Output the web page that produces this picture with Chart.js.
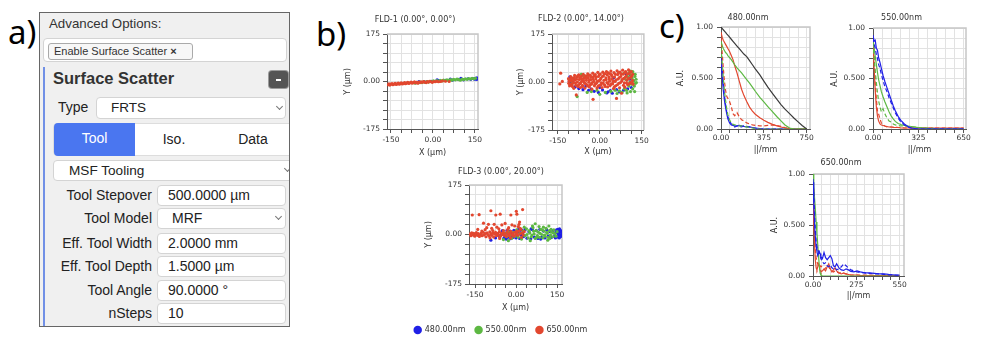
<!DOCTYPE html>
<html>
<head>
<meta charset="utf-8">
<title>Surface scatter</title>
<script src="https://cdn.jsdelivr.net/npm/chart.js@4.4.1/dist/chart.umd.min.js"></script>
<style>
  body { margin: 0; width: 983px; height: 346px; position: relative; overflow: hidden; background: #fff; font-family: "Liberation Sans", Arial, sans-serif; color: #222; }
  .lbl { position: absolute; font-family: "Noto Sans", sans-serif; font-size: 33px; line-height: 33px; color: #000; }
  #panel { position: absolute; left: 39px; top: 12px; width: 249px; height: 313px; border: 1px solid #666; background: #f0f0f0; overflow: hidden; }
  #panel div { position: absolute; box-sizing: border-box; white-space: nowrap; }
  #panel .box { background: #fff; border: 1px solid #d4d4d4; border-radius: 4px; height: 21px; font-size: 14px; line-height: 19px; }
  #panel .chev { width: 5px; height: 5px; top: 5px; border-right: 1px solid #777; border-bottom: 1px solid #777; transform: rotate(45deg); }
  #panel .rl { left: 0; width: 112px; text-align: right; font-size: 14px; line-height: 16px; }
  #panel .rv { left: 117px; width: 129px; padding-left: 10px; }
  canvas { position: absolute; }
</style>
</head>
<body>

<div class="lbl" style="left:8px;top:15px">a)</div>
<div class="lbl" style="left:316px;top:17px">b)</div>
<div class="lbl" style="left:659px;top:9px">c)</div>

<div id="panel">
  <div style="left:9px;top:3px;font-size:13.3px;line-height:16px;color:#333">Advanced Options:</div>
  <div class="box" style="left:3px;top:25px;width:244px;height:24px"></div>
  <div style="left:8px;top:30px;width:145px;height:17px;background:#f7f7f7;border:1px solid #aaa;border-radius:3px;font-size:11px;line-height:15px;padding-left:5px;color:#333">Enable Surface Scatter <b>&#215;</b></div>
  <div style="left:3px;top:54px;width:2px;height:260px;background:#7190e6"></div>
  <div style="left:13px;top:55px;font-size:16.5px;line-height:20px;font-weight:bold;color:#333">Surface Scatter</div>
  <div style="left:229px;top:58px;width:19px;height:17px;background:#545454;border-radius:3px;box-shadow:0 0 0 1px #9a9a9a">
    <div style="left:7px;top:8px;width:5px;height:1.5px;background:#fff"></div>
  </div>
  <div style="left:18px;top:86px;font-size:14px;line-height:16px">Type</div>
  <div class="box" style="left:56px;top:84px;width:190px;height:22px;padding-left:14px;font-size:13.5px;line-height:20px">FRTS<div class="chev" style="left:180px;top:6px"></div></div>
  <div style="left:13px;top:110px;width:245px;height:33px;background:#fff;border:1px solid #ddd;border-radius:4px;font-size:14px;line-height:31px;text-align:center">
    <div style="left:0;top:-1px;width:81px;height:33px;background:#4a76f0;color:#fff;border-radius:4px 0 0 4px">Tool</div>
    <div style="left:81px;top:0;width:78px;height:31px">Iso.</div>
    <div style="left:159px;top:0;width:80px;height:31px">Data</div>
  </div>
  <div class="box" style="left:13px;top:147px;width:245px;padding-left:15px;font-size:13.6px">MSF Tooling<div class="chev" style="left:231px"></div></div>

  <div class="rl" style="top:174px">Tool Stepover</div>
  <div class="box rv" style="top:172px">500.0000 µm</div>
  <div class="rl" style="top:197px">Tool Model</div>
  <div class="box rv" style="top:195px;padding-left:14px">MRF<div class="chev" style="left:118px"></div></div>
  <div class="rl" style="top:222px">Eff. Tool Width</div>
  <div class="box rv" style="top:220px">2.0000 mm</div>
  <div class="rl" style="top:245px">Eff. Tool Depth</div>
  <div class="box rv" style="top:243px">1.5000 µm</div>
  <div class="rl" style="top:269px">Tool Angle</div>
  <div class="box rv" style="top:267px">90.0000 °</div>
  <div class="rl" style="top:292px">nSteps</div>
  <div class="box rv" style="top:290px">10</div>
</div>

<script>
// spot diagrams, [x µm, y µm]
const fld1Blue = [[-60,-4],[-50,0],[-30,-1],[-5,1],[15,6],[20,3],[45,4],[62,9],[70,5],[90,8],[100,12],[110,6],[125,10],[135,8],[142,11],[148,9],[150,10],[152,12],[155,8],[157,13],[158,11],[160,9]];
const fld1Green = [[-64,-6],[-58,-3],[-52,-5],[-46,-2],[-40,-4],[-34,-1],[-28,-3],[-22,0],[-16,-2],[-10,1],[-4,-1],[2,2],[8,0],[14,3],[20,1],[26,4],[32,2],[38,5],[44,3],[50,6],[56,4],[62,7],[68,5],[74,8],[80,6],[86,9],[92,7],[98,5],[104,9],[110,7],[116,10],[122,8],[128,11],[134,9],[140,12],[146,10],[152,12]];
const fld1Red = [[-160,-12],[-157,-9],[-154,-13],[-150,-10],[-146,-8],[-143,-12],[-139,-10],[-135,-7],[-131,-11],[-128,-9],[-124,-6],[-120,-10],[-117,-8],[-113,-5],[-109,-9],[-105,-7],[-101,-4],[-98,-8],[-94,-6],[-90,-3],[-86,-7],[-82,-5],[-78,-2],[-74,-6],[-70,-4],[-66,-1],[-62,-5],[-58,-3],[-54,-6],[-50,-2],[-46,-4],[-42,-1],[-37,-3],[-33,0],[-29,-2],[-24,-4],[-20,0],[-16,-2],[-11,1],[-7,-1],[-2,-3],[3,0],[8,-1],[14,1],[20,-1],[27,0],[34,2],[45,1],[58,0]];

const fld2Blue = [[-109,2],[-107,19],[-105,8],[-103,-5],[-100,-11],[-96,0],[-92,12],[-88,-18],[-75,-24],[-60,-28],[-50,-15],[-40,-30],[-30,-26],[-20,-34],[-5,-38],[0,-20],[10,-29],[25,-40],[30,-36],[38,-31],[45,-41],[50,15],[60,-28],[70,-36],[85,-30],[95,30],[100,-25],[108,10],[110,25],[113,-20]];
const fld2Green = [[-105,8],[-98,-4],[-81,-53],[-66,28],[-58,24],[-48,20],[-45,-38],[-30,-35],[-10,-30],[0,-45],[20,-38],[40,-34],[55,-30],[62,-42],[70,-32],[80,-38],[84,30],[88,-25],[92,10],[96,-30],[98,-40],[100,20],[104,-15],[106,35],[108,0],[110,-35],[110,40],[112,25],[114,-8],[116,15],[118,-25],[118,38],[120,30],[122,5],[124,-15],[125,-35],[126,20],[127,28],[128,-5],[130,10],[131,-2]];
const fld2Red = [[-140,32],[-143,-7],[-134,2],[-112,12],[-111,-5],[-108,-14],[-104,20],[-103,4],[-100,-9],[-97,14],[-95,-2],[-93,-23],[-90,24],[-89,7],[-86,-12],[-84,-47],[-82,18],[-80,0],[-78,-16],[-75,26],[-73,9],[-71,-6],[-69,-20],[-66,21],[-64,3],[-62,-12],[-59,28],[-57,13],[-55,-3],[-53,-22],[-50,22],[-48,6],[-46,-10],[-43,30],[-41,15],[-39,-1],[-37,-18],[-34,25],[-32,9],[-30,-8],[-28,-26],[-24,-63],[-25,32],[-23,18],[-21,2],[-19,-14],[-16,27],[-14,11],[-12,-5],[-10,-22],[-7,35],[-5,20],[-3,4],[-1,-12],[2,29],[4,13],[6,-3],[8,-20],[11,36],[13,22],[15,6],[17,-10],[20,30],[22,15],[24,38],[26,-2],[28,-18],[31,33],[33,19],[35,3],[37,-13],[40,40],[42,26],[44,10],[46,-6],[49,-24],[51,34],[53,18],[55,2],[57,-14],[60,-60],[62,41],[64,27],[66,11],[68,-5],[71,-21],[73,36],[75,20],[78,-41],[79,4],[82,43],[84,29],[86,13],[88,-3],[90,-19],[93,38],[95,22],[97,6],[100,-10],[103,44],[105,30],[107,14],[110,-2],[113,38],[115,22],[117,6],[119,-8],
  [-110,4],[-106,-8],[-102,12],[-98,-16],[-94,6],[-91,16],[-87,-4],[-83,10],[-79,22],[-76,-10],[-72,16],[-68,-2],[-65,12],[-61,-16],[-58,4],[-54,18],[-51,-6],[-47,14],[-44,-14],[-40,24],[-38,6],[-35,-10],[-31,18],[-27,-2],[-24,10],[-20,24],[-17,-8],[-13,19],[-9,2],[-6,-16],[-2,26],[1,8],[5,-10],[9,20],[12,-4],[16,30],[19,-16],[23,8],[27,26],[30,-6],[34,12],[38,30],[41,-8],[45,20],[48,2],[52,-18],[56,28],[59,8],[63,-10],[67,34],[70,16],[74,-2],[77,28],[81,10],[85,-12],[89,34],[92,18],[96,-4],[99,30],[102,12],[106,-6],[109,36],[112,18],[116,-2],[118,28]];

const fld3Blue = [[-92,-20],[-75,-12],[-68,2],[-60,-8],[-55,-2],[-52,6],[-50,14],[-48,10],[-45,-14],[-40,-6],[-38,4],[-36,-16],[-33,14],[-30,-10],[-26,0],[-22,12],[-20,-15],[-18,6],[-15,-6],[-10,-10],[-8,15],[-3,10],[0,-12],[4,-4],[6,8],[10,20],[12,12],[13,-14],[18,-2],[20,16],[25,6],[27,-8],[33,18],[40,-13],[47,10],[54,-15],[55,20],[60,17],[67,-9],[74,14],[80,-14],[87,18],[90,-16],[93,-10],[100,12],[106,-12],[112,16],[118,-6],[124,10],[130,-10],[136,14],[141,-5],[144,-12],[146,8],[148,16],[150,-9],[152,5],[153,18],[155,-3],[156,2],[157,10],[158,-12],[159,20],[160,12],[161,-8],[162,-4],[163,14],[164,8],[165,-6],[166,0],[168,4]];
const fld3Green = [[-46,-18],[-40,4],[-34,-8],[-28,10],[-28,-22],[-22,-2],[-16,-14],[-10,8],[-4,-6],[2,16],[8,-10],[14,4],[20,-16],[26,12],[30,26],[32,-4],[38,20],[40,0],[44,-12],[48,14],[50,6],[52,-22],[56,-8],[58,-2],[60,30],[62,24],[64,12],[66,2],[70,-14],[70,38],[74,14],[76,-10],[78,-4],[82,8],[84,28],[86,-10],[88,4],[90,18],[94,0],[96,16],[98,-12],[100,26],[102,12],[104,-2],[106,-6],[110,22],[112,8],[114,4],[116,-20],[118,-10],[120,30],[122,14],[124,-14],[126,-2],[128,18],[130,8],[134,-8],[136,6],[138,16],[142,2],[146,-6],[150,10]];
const fld3Red = [[-168,2],[-165,-4],[-162,6],[-158,-1],[-155,4],[-151,-6],[-148,1],[-145,7],[-141,-3],[-138,3],[-134,-7],[-131,0],[-127,5],[-124,-4],[-120,8],[-117,-1],[-113,3],[-110,-8],[-106,6],[-103,0],[-99,-5],[-96,9],[-95,-12],[-92,2],[-89,-3],[-85,6],[-82,-9],[-78,1],[-75,8],[-71,-4],[-68,3],[-64,-1],[-61,10],[-60,-14],[-57,-6],[-54,4],[-50,0],[-47,7],[-43,-3],[-40,2],[-36,-7],[-33,9],[-29,1],[-26,-4],[-22,5],[-20,-12],[-19,11],[-15,-2],[-12,3],[-8,-6],[-5,8],[-1,0],[2,5],[6,-3],[10,12],[14,2],[18,18],[20,-10],[22,6],[26,-1],[30,10],
  [-160,69],[-135,70],[-92,84],[-74,69],[-58,72],[-19,69],[3,72],[24,88],[1,82],[-119,40],[-101,36],[-80,36],[-52,34],[-40,39],[-15,34],[-5,30],[-107,24],[-89,22],[-70,26],[-27,24],[15,22],[-125,12],[-113,17],[-46,14],[3,12],[11,36],[8,28],[13,44],[-63,20],[-140,18],[-30,18],[-85,14]];

const fldXTicks = [-150, -112.5, -75, -37.5, 0, 37.5, 75, 112.5, 150];
const fldXLabels = ['-150', '', '', '', '0.00', '', '', '', '150'];
const fldYTicks = [-175, -140, -105, -70, -35, 0, 35, 70, 105, 140, 175];
const fldYLabels = ['-175', '', '', '', '', '0.00', '', '', '', '', '175'];
const wavelengths = ['480.00nm', '550.00nm', '650.00nm'];

// MTF-style curves, spatial frequency per mm
const x480 = [0, 10, 20, 30, 40, 50, 60, 75, 90, 105, 120, 140, 160, 180, 200, 225, 250, 275, 300, 340, 375, 410, 450, 490, 525, 560, 600, 640, 675, 710, 750];
const black480 = [1.00, .987, .973, .96, .947, .933, .92, .90, .88, .86, .84, .813, .787, .76, .735, .71, .67, .63, .59, .53, .47, .41, .35, .29, .24, .195, .15, .105, .07, .035, 0];
const green480 = [.86, .82, .79, .77, .75, .74, .72, .70, .68, .655, .63, .60, .575, .55, .52, .485, .45, .41, .37, .31, .265, .22, .17, .12, .08, .04, .01, 0, 0, 0, 0];
const greenDash480 = [.80, .66, .50, .38, .28, .20, .14, .09, .06, .045, .04, .035, .03, .03, .025, .02, .015, .01, .005, 0, 0, 0, 0, 0, 0, 0, 0, 0, 0, 0, 0];
const red480 = [.95, .90, .87, .85, .83, .81, .79, .76, .72, .68, .62, .55, .47, .39, .33, .27, .215, .175, .145, .11, .085, .065, .045, .03, .02, .01, .005, 0, 0, 0, 0];
const redDash480 = [.90, .75, .60, .47, .38, .32, .30, .27, .22, .15, .13, .16, .12, .09, .08, .06, .05, .04, .035, .03, .03, .035, .04, .035, .025, .015, .005, 0, 0, 0, 0];
const blue480 = [.65, .52, .38, .28, .21, .15, .10, .06, .04, .035, .03, .03, .035, .03, .025, .02, .02, .015, .01, .005, 0, 0, 0, 0, 0, 0, 0, 0, 0, 0, 0];
const blueDash480 = [.70, .60, .45, .33, .24, .17, .12, .08, .05, .04, .02, .03, .025, .02, .03, .025, .02, .01, .01, 0, 0, 0, 0, 0, 0, 0, 0, 0, 0, 0, 0];

const x550 = [0, 8, 16, 24, 32, 40, 50, 60, 72, 85, 100, 115, 130, 145, 160, 180, 200, 225, 250, 275, 300, 325, 360, 400, 440, 480, 520, 560, 600, 650];
const blue550 = [.93, .87, .88, .80, .78, .71, .66, .60, .53, .47, .41, .35, .29, .23, .18, .125, .085, .05, .025, .01, .005, 0, 0, 0, 0, 0, 0, 0, 0, 0];
const blueDash550 = [.90, .84, .80, .74, .70, .64, .60, .54, .48, .42, .37, .31, .26, .21, .16, .11, .07, .04, .02, .01, 0, 0, 0, 0, 0, 0, 0, 0, 0, 0];
const green550 = [.90, .80, .72, .64, .56, .49, .43, .37, .32, .27, .22, .17, .13, .10, .075, .055, .045, .035, .03, .025, .02, .015, .01, .005, 0, 0, 0, 0, 0, 0];
const greenDash550 = [.85, .70, .58, .46, .36, .28, .22, .17, .20, .15, .11, .08, .07, .05, .04, .035, .03, .03, .025, .02, .02, .015, .01, .01, .005, 0, 0, 0, 0, 0];
const red550 = [.88, .60, .38, .22, .13, .08, .05, .04, .035, .03, .025, .02, .02, .015, .015, .015, .01, .01, .01, .01, .01, .01, .01, .01, .01, .01, .01, .01, .01, .01];
const redDash550 = [.92, .70, .45, .30, .18, .15, .10, .06, .04, .03, .02, .02, .02, .02, .02, .015, .015, .01, .01, .01, .01, .01, .01, .01, .01, .01, .01, .01, .01, .01];

const x650 = [0, 5, 10, 15, 20, 25, 30, 35, 40, 45, 50, 60, 70, 80, 90, 100, 110, 120, 130, 140, 150, 165, 180, 195, 210, 225, 240, 260, 280, 300, 330, 360, 390, 420, 450, 480, 520, 550];
const blue650 = [.92, .70, .50, .38, .29, .24, .20, .22, .24, .22, .19, .17, .23, .18, .16, .18, .20, .17, .10, .09, .12, .08, .06, .055, .07, .06, .045, .04, .05, .04, .03, .03, .025, .02, .02, .015, .01, .01];
const blueDash650 = [.95, .80, .62, .45, .34, .28, .26, .24, .22, .20, .17, .14, .12, .13, .10, .09, .11, .08, .07, .08, .06, .07, .09, .12, .10, .08, .06, .05, .04, .035, .03, .025, .02, .02, .015, .01, .01, .005];
const green650 = [1.0, .88, .76, .65, .53, .42, .31, .20, .10, .03, .01, 0, 0, 0, 0, 0, 0, 0, 0, 0, 0, 0, 0, 0, 0, 0, 0, 0, 0, 0, 0, 0, 0, 0, 0, 0, 0, 0];
const red650 = [.85, .55, .30, .15, .08, .06, .09, .12, .10, .06, .04, .05, .07, .05, .09, .12, .07, .04, .06, .08, .05, .03, .02, .03, .02, .015, .01, .01, .01, .005, .005, .005, .005, .005, .005, .005, .005, .005];
const redDash650 = [.90, .65, .40, .25, .18, .14, .12, .10, .08, .09, .10, .08, .06, .08, .10, .09, .06, .05, .04, .05, .04, .03, .03, .025, .02, .015, .01, .01, .01, .01, .01, .01, .005, .005, .005, .005, .005, .005];

const mtfYTicks = [0, .1, .2, .3, .4, .5, .6, .7, .8, .9, 1];
const mtfYLabels = ['0.00', '', '', '', '', '0.500', '', '', '', '', '1.00'];
const x480Ticks = [0, 75, 150, 225, 300, 375, 450, 525, 600, 675, 750];
const x480Labels = ['0.00', '', '', '', '', '375', '', '', '', '', '750'];
const x550Ticks = [0, 65, 130, 195, 260, 325, 390, 455, 520, 585, 650];
const x550Labels = ['0.00', '', '', '', '', '325', '', '', '', '', '650'];
const x650Ticks = [0, 55, 110, 165, 220, 275, 330, 385, 440, 495, 550];
const x650Labels = ['0.00', '', '', '', '', '275', '', '', '', '', '550'];

const BLUE = '#2020e6', GREEN = '#5db843', RED = '#e2472f', BLACK = '#3a3a3a';
const ink = '#333';
const tickFont = {family: 'DejaVu Sans', size: 7.5};
const textFont = {family: 'DejaVu Sans', size: 8, weight: 'normal'};

function toPts(pairs) {
  return pairs.map(p => ({x: p[0], y: p[1]}));
}
function toLine(xs, ys) {
  return xs.map((x, i) => ({x: x, y: ys[i]}));
}

// light frame on the open sides of the plot area
const plotFrame = {
  id: 'plotFrame',
  beforeDatasetsDraw(chart) {
    const a = chart.chartArea, ctx = chart.ctx;
    ctx.save();
    ctx.strokeStyle = '#c6c6c6';
    ctx.lineWidth = 1.5;
    ctx.beginPath();
    ctx.moveTo(a.left, a.top);
    ctx.lineTo(a.right, a.top);
    ctx.lineTo(a.right, a.bottom);
    ctx.stroke();
    ctx.restore();
  }
};

function axis(o) {
  return {
    type: 'linear',
    position: o.position,
    min: o.min,
    max: o.max,
    bounds: 'data',
    afterBuildTicks: s => { s.ticks = o.ticks.map(v => ({value: v})); },
    afterFit: s => { if (o.position === 'left') s.width = o.size; else s.height = o.size; },
    ticks: {callback: (v, i) => o.labels[i], font: tickFont, color: ink, padding: o.tickPad, autoSkip: false, maxRotation: 0, minRotation: 0},
    grid: {color: '#e2e2e2', tickColor: '#555', tickLength: 4},
    border: {color: '#555'},
    title: {display: true, text: o.title, font: textFont, color: ink, padding: o.titlePad}
  };
}

function plot(box, cfg) {
  const c = document.createElement('canvas');
  c.width = box[2];
  c.height = box[3];
  c.style.left = box[0] + 'px';
  c.style.top = box[1] + 'px';
  document.body.appendChild(c);
  cfg.plugins = [plotFrame];
  return new Chart(c, cfg);
}

function options(o) {
  return {
    responsive: false,
    animation: false,
    events: [],
    layout: {padding: 0},
    plugins: {
      title: {display: true, text: o.title, font: textFont, color: ink, padding: {top: o.tTop, bottom: o.tBottom}},
      legend: o.legend || {display: false},
      tooltip: {enabled: false}
    },
    scales: {
      x: axis(o.x),
      y: axis(o.y),
      gap: {position: 'right', grid: {display: false}, border: {display: false}, ticks: {display: false}, afterFit: s => { s.width = o.gap; }}
    }
  };
}

function spots(b, g, r) {
  const dot = (label, data, color, order) => ({label: label, data: toPts(data), backgroundColor: color, borderColor: color, borderWidth: 0, pointRadius: 1.6, order: order});
  return [dot(wavelengths[0], b, BLUE, 3), dot(wavelengths[1], g, GREEN, 2), dot(wavelengths[2], r, RED, 1)];
}

function fldX(min, max, size, pb) {
  return {position: 'bottom', min: min, max: max, ticks: fldXTicks, labels: fldXLabels, size: size, tickPad: 3, title: 'X (µm)', titlePad: {top: 0, bottom: pb}};
}
function fldY(size, pt) {
  return {position: 'left', min: -175, max: 175, ticks: fldYTicks, labels: fldYLabels, size: size, tickPad: 3, title: 'Y (µm)', titlePad: {top: pt, bottom: 0}};
}

plot([337, 8, 156, 154], {
  type: 'scatter',
  data: {datasets: spots(fld1Blue, fld1Green, fld1Red)},
  options: options({title: 'FLD-1 (0.00°, 0.00°)', tTop: 7.2, tBottom: 9.2, gap: 15, x: fldX(-164, 161, 33, 4.2), y: fldY(50, 6.2)})
});

plot([510, 8, 142, 152], {
  type: 'scatter',
  data: {datasets: spots(fld2Blue, fld2Green, fld2Red)},
  options: options({title: 'FLD-2 (0.00°, 14.00°)', tTop: 6.2, tBottom: 10.2, gap: 8, x: fldX(-171, 158, 30, 3.5), y: fldY(42, 6.2)})
});

plot([396, 160, 210, 184], {
  type: 'scatter',
  data: {datasets: spots(fld3Blue, fld3Green, fld3Red)},
  options: options({
    title: 'FLD-3 (0.00°, 20.00°)', tTop: 7.2, tBottom: 8.2, gap: 44,
    x: fldX(-172, 168, 32, 3.5), y: fldY(73, 28.2),
    legend: {display: true, position: 'bottom', labels: {usePointStyle: true, pointStyle: 'circle', boxWidth: 6, boxHeight: 6, padding: 10, color: ink, font: textFont, sort: (a, b) => a.datasetIndex - b.datasetIndex}}
  })
});

function curve(xs, ys, color, dashed) {
  return {data: toLine(xs, ys), borderColor: color, borderWidth: 1.2, borderDash: dashed ? [4, 2.5] : [], pointRadius: 0, fill: false, tension: 0};
}
function mtfX(max, ticks, labels, size, pb) {
  return {position: 'bottom', min: 0, max: max, ticks: ticks, labels: labels, size: size, tickPad: 1, title: '||/mm', titlePad: {top: 0, bottom: pb}};
}
function mtfY(size, pt) {
  return {position: 'left', min: 0, max: 1, ticks: mtfYTicks, labels: mtfYLabels, size: size, tickPad: 4, title: 'A.U.', titlePad: {top: pt, bottom: 0}};
}

plot([670, 6, 156, 154], {
  type: 'line',
  data: {datasets: [
    curve(x480, black480, BLACK), curve(x480, green480, GREEN), curve(x480, greenDash480, GREEN, true),
    curve(x480, red480, RED), curve(x480, redDash480, RED, true),
    curve(x480, blueDash480, BLUE, true), curve(x480, blue480, BLUE)
  ]},
  options: options({title: wavelengths[0], tTop: 7.5, tBottom: 3.9, gap: 16, x: mtfX(779, x480Ticks, x480Labels, 31, 5.2), y: mtfY(51, 5.9)})
});

plot([824, 6, 155, 154], {
  type: 'line',
  data: {datasets: [
    curve(x550, blueDash550, BLUE, true), curve(x550, blue550, BLUE),
    curve(x550, greenDash550, GREEN, true), curve(x550, green550, GREEN),
    curve(x550, redDash550, RED, true), curve(x550, red550, RED)
  ]},
  options: options({title: wavelengths[1], tTop: 7.5, tBottom: 4.9, gap: 13, x: mtfX(667, x550Ticks, x550Labels, 31, 5.2), y: mtfY(49, 6.2)})
});

plot([764, 151, 154, 154], {
  type: 'line',
  data: {datasets: [
    curve(x650, blueDash650, BLUE, true), curve(x650, blue650, BLUE),
    curve(x650, green650, GREEN),
    curve(x650, redDash650, RED, true), curve(x650, red650, RED)
  ]},
  options: options({title: wavelengths[2], tTop: 7.5, tBottom: 5.9, gap: 14, x: mtfX(578, x650Ticks, x650Labels, 29, 4.5), y: mtfY(49, 6.2)})
});
</script>
</body>
</html>
